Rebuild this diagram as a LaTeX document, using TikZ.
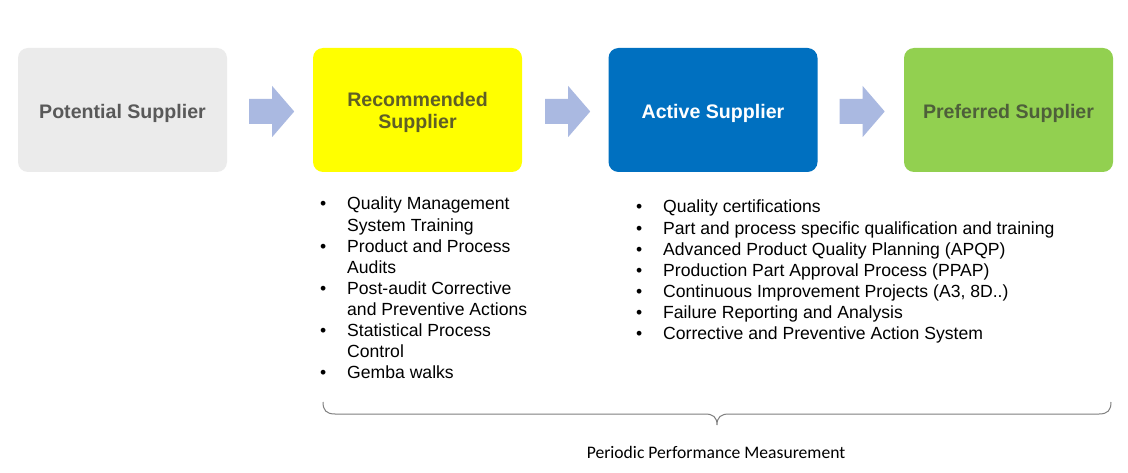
\documentclass[tikz,border=0pt]{standalone}
\usepackage{fontspec}
\setmainfont{Liberation Sans}
\newfontfamily\calib{Carlito}
\definecolor{boxgrey}{HTML}{EBEBEB}
\definecolor{boxyellow}{HTML}{FFFF00}
\definecolor{boxblue}{HTML}{0070C0}
\definecolor{boxgreen}{HTML}{92D050}
\definecolor{txtgrey}{HTML}{595959}
\definecolor{txtolive}{HTML}{5F5F26}
\definecolor{txtgreen}{HTML}{4E5F3A}
\definecolor{arrowfill}{HTML}{AAB9E1}
\definecolor{bracegrey}{HTML}{7F7F7F}
\newcommand\bitem{\makebox[27pt][l]{\textbullet}}
\newcommand\bcont{\hspace*{27pt}}
\begin{document}
\begin{tikzpicture}[x=1pt,y=-1pt,
  stagebox/.style={rounded corners=10pt, minimum width=209pt, minimum height=124pt,
    inner sep=0pt},
  stagetext/.style={inner sep=0pt, align=center, font=\fontsize{19.6}{21.5}\selectfont\bfseries},
  listnode/.style={anchor=base west, inner sep=0pt, font=\fontsize{17.6}{21.1}\selectfont},
  blockarrow/.pic={\fill[arrowfill] (0,-12.5) -- (23,-12.5) -- (23,-25.5) -- (45,0)
     -- (23,25.5) -- (23,12.5) -- (0,12.5) -- cycle;}]
\useasboundingbox[fill=white] (0,0) rectangle (1128,473);

\node[stagebox, fill=boxgrey] (pot) at (122.5,110) {};
\node[stagebox, fill=boxyellow] (rec) at (417.5,110) {};
\node[stagebox, fill=boxblue] (act) at (713,110) {};
\node[stagebox, fill=boxgreen] (pre) at (1008.5,110) {};

\node[stagetext, text=txtgrey] (pott) at ([yshift=-3pt]pot.center) {Potential Supplier};
\node[stagetext, text=txtolive] (rect) at ([yshift=-2.5pt]rec.center) {Recommended\\Supplier};
\node[stagetext, text=white] (actt) at ([yshift=-3pt]act.center) {Active Supplier};
\node[stagetext, text=txtgreen] (pret) at ([yshift=-3pt]pre.center) {Preferred Supplier};

\path (pot.east) ++(22,1.5) pic {blockarrow};
\path (rec.east) ++(23,1.5) pic {blockarrow};
\path (act.east) ++(22,1.5) pic {blockarrow};

\node[listnode] (recl) at (320,210) {\renewcommand\arraystretch{1}\begin{tabular}[t]{@{}l@{}}
\bitem Quality Management\\
\bcont System Training\\
\bitem Product and Process\\
\bcont Audits\\
\bitem Post-audit Corrective\\
\bcont and Preventive Actions\\
\bitem Statistical Process\\
\bcont Control\\
\bitem Gemba walks
\end{tabular}};

\node[listnode] (actl) at (636,213) {\renewcommand\arraystretch{1}\begin{tabular}[t]{@{}l@{}}
\bitem Quality certifications\\
\bitem Part and process specific qualification and training\\
\bitem Advanced Product Quality Planning (APQP)\\
\bitem Production Part Approval Process (PPAP)\\
\bitem Continuous Improvement Projects (A3, 8D..)\\
\bitem Failure Reporting and Analysis\\
\bitem Corrective and Preventive Action System
\end{tabular}};

\coordinate (bl) at (323,402);
\coordinate (bt) at (717,425);
\coordinate (br) at (1111,402);
\draw[bracegrey, line width=1pt] (bl) .. controls (323,410) and (326,414) .. (335,414)
  -- (705,414) .. controls (713,414) and (717,417) .. (bt)
  .. controls (717,417) and (721,414) .. (729,414)
  -- (1099,414) .. controls (1108,414) and (1111,410) .. (br);

\node[inner sep=0pt, font=\calib\fontsize{17.6}{20}\selectfont, text=black] (ppm) at (716,452) {Periodic Performance Measurement};
\end{tikzpicture}
\end{document}
